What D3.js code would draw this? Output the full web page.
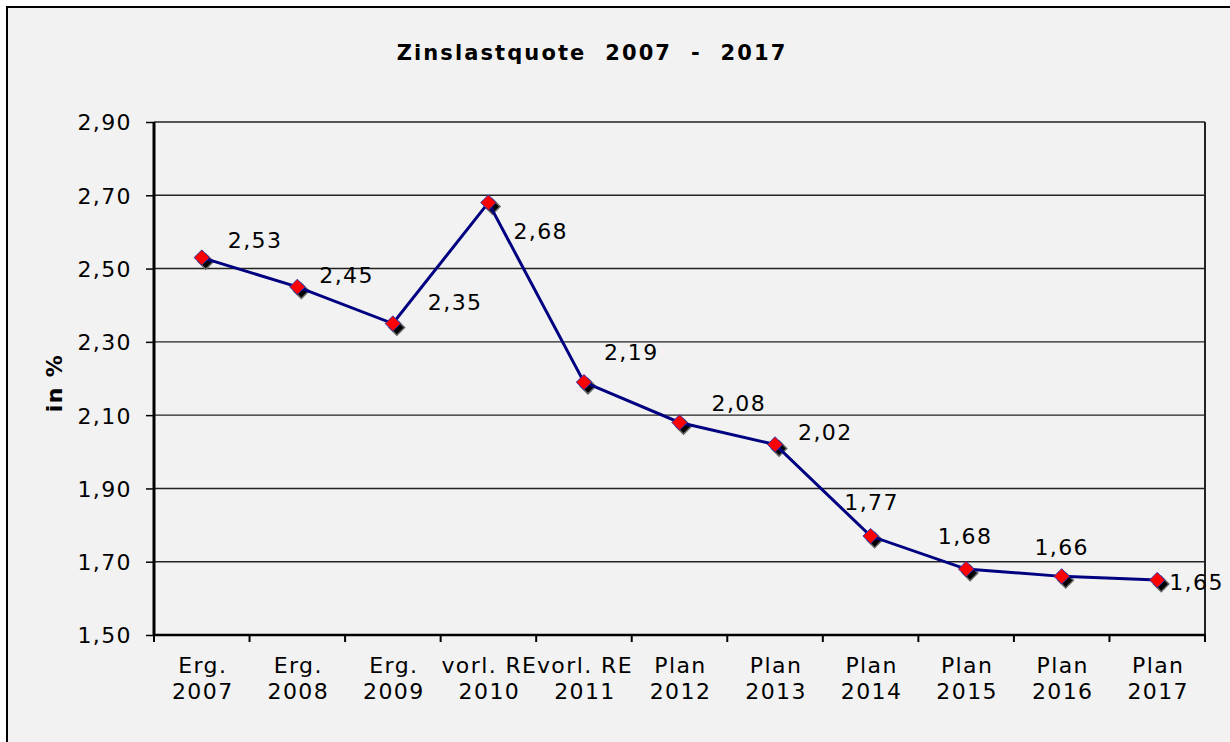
<!DOCTYPE html>
<html lang="de">

<head>
  <meta charset="utf-8">
  <title>Zinslastquote 2007 - 2017</title>
  <script src="https://cdn.jsdelivr.net/npm/d3@7"></script>
  <style>
    body { margin: 0; background: #fff; }
    text { font-family: "DejaVu Sans", Verdana, sans-serif; fill: #000; font-size: 22px; letter-spacing: 1.4px; }
  </style>
</head>

<body>
  <script>
    var kategorien = ["Erg.|2007", "Erg.|2008", "Erg.|2009", "vorl. RE|2010", "vorl. RE|2011",
      "Plan|2012", "Plan|2013", "Plan|2014", "Plan|2015", "Plan|2016", "Plan|2017"];
    var quote = [2.53, 2.45, 2.35, 2.68, 2.19, 2.08, 2.02, 1.77, 1.68, 1.66, 1.65];
    var yTicks = [1.5, 1.7, 1.9, 2.1, 2.3, 2.5, 2.7, 2.9];

    // manual label placement like in the Excel original: [dx, dy, anchor]
    var labelNudge = [[26, -10, "start"], [22, -4, "start"], [35, -14, "start"], [25, 36, "start"],
      [20, -22, "start"], [32, -11, "start"], [23, -4, "start"], [1, -26, "middle"],
      [-1, -25, "middle"], [0, -21, "middle"], [12, 10, "start"]];

    var w = 1230, h = 742;
    var margin = { top: 122, left: 154, right: 25, bottom: 107 };
    var width = w - margin.left - margin.right;
    var height = h - margin.top - margin.bottom;
    var fmt = function (v) { return d3.format(".2f")(v).replace(".", ","); };

    var svg = d3.select("body").append("svg")
      .attr("width", w)
      .attr("height", h);

    svg.append("rect")
      .attr("x", 7).attr("y", 7)
      .attr("width", w + 10).attr("height", h + 10)
      .attr("fill", "#f2f2f2")
      .attr("stroke", "#000")
      .attr("stroke-width", 2);

    svg.append("text")
      .attr("x", 592).attr("y", 60)
      .attr("text-anchor", "middle")
      .style("font-size", "21px")
      .style("font-weight", "bold")
      .style("letter-spacing", "2.1px")
      .style("white-space", "pre")
      .text("Zinslastquote  2007  -  2017");

    svg.append("text")
      .attr("transform", "translate(62,383) rotate(-90)")
      .attr("text-anchor", "middle")
      .style("font-weight", "bold")
      .text("in %");

    var x = d3.scaleBand().domain(kategorien).range([0, width]);
    var y = d3.scaleLinear().domain([1.5, 2.9]).range([height, 0]);

    var g = svg.append("g")
      .attr("transform", "translate(" + margin.left + "," + margin.top + ")");

    // gridlines
    g.selectAll(".grid")
      .data(yTicks.slice(1))
      .enter().append("line")
      .attr("x1", 0).attr("x2", width)
      .attr("y1", function (d) { return y(d); })
      .attr("y2", function (d) { return y(d); })
      .attr("stroke", "#222")
      .attr("stroke-width", 1.4);

    // right border of plot area
    g.append("line")
      .attr("x1", width).attr("x2", width)
      .attr("y1", 0).attr("y2", height)
      .attr("stroke", "#222").attr("stroke-width", 2);

    // y axis
    var yAxis = g.append("g")
      .call(d3.axisLeft(y).tickValues(yTicks).tickSize(8).tickPadding(14).tickFormat(fmt));
    yAxis.select(".domain").attr("stroke", "#000").attr("stroke-width", 3).attr("d", "M0,0V" + height);
    yAxis.selectAll(".tick line").attr("stroke-width", 1.5);
    yAxis.selectAll("text").attr("font-size", null).attr("font-family", null).attr("dy", "0.36em");

    // x axis (ticks at band boundaries)
    var xAxis = g.append("g").attr("transform", "translate(0," + height + ")");
    xAxis.append("line")
      .attr("x1", 0).attr("x2", width)
      .attr("stroke", "#000").attr("stroke-width", 2.5);
    xAxis.selectAll(".xt")
      .data(d3.range(kategorien.length + 1))
      .enter().append("line")
      .attr("x1", function (i) { return i * x.step(); })
      .attr("x2", function (i) { return i * x.step(); })
      .attr("y1", 0).attr("y2", 7)
      .attr("stroke", "#000").attr("stroke-width", 2);
    var xl = xAxis.selectAll(".xl")
      .data(kategorien)
      .enter().append("text")
      .attr("text-anchor", "middle")
      .attr("transform", function (d) { return "translate(" + (x(d) + x.bandwidth() / 2 + 1) + ",0)"; });
    xl.append("tspan").attr("x", 0).attr("y", 38).text(function (d) { return d.split("|")[0]; });
    xl.append("tspan").attr("x", 0).attr("y", 64).text(function (d) { return d.split("|")[1]; });

    var cx = function (d, i) { return x(kategorien[i]) + x.bandwidth() / 2; };
    var diamond = d3.symbol().type(d3.symbolDiamond2).size(150);

    // marker shadows
    g.selectAll(".shadow")
      .data(quote)
      .enter().append("path")
      .attr("d", diamond)
      .attr("fill", "#000")
      .attr("stroke", "#666")
      .attr("stroke-width", 1.5)
      .attr("transform", function (d, i) { return "translate(" + (cx(d, i) + 4) + "," + (y(d) + 4) + ")"; });

    var line = d3.line()
      .x(function (d, i) { return cx(d, i); })
      .y(function (d) { return y(d); });
    g.append("path")
      .datum(quote)
      .attr("d", line)
      .attr("fill", "none")
      .attr("stroke", "#000080")
      .attr("stroke-width", 3);

    g.selectAll(".marker")
      .data(quote)
      .enter().append("path")
      .attr("d", diamond)
      .attr("fill", "#ff0000")
      .attr("stroke", "#3333aa")
      .attr("stroke-width", 1)
      .attr("transform", function (d, i) { return "translate(" + cx(d, i) + "," + y(d) + ")"; });

    g.selectAll(".lbl")
      .data(quote)
      .enter().append("text")
      .attr("text-anchor", function (d, i) { return labelNudge[i][2]; })
      .attr("x", function (d, i) { return cx(d, i) + labelNudge[i][0]; })
      .attr("y", function (d, i) { return y(d) + labelNudge[i][1]; })
      .text(fmt);
  </script>
</body>

</html>
